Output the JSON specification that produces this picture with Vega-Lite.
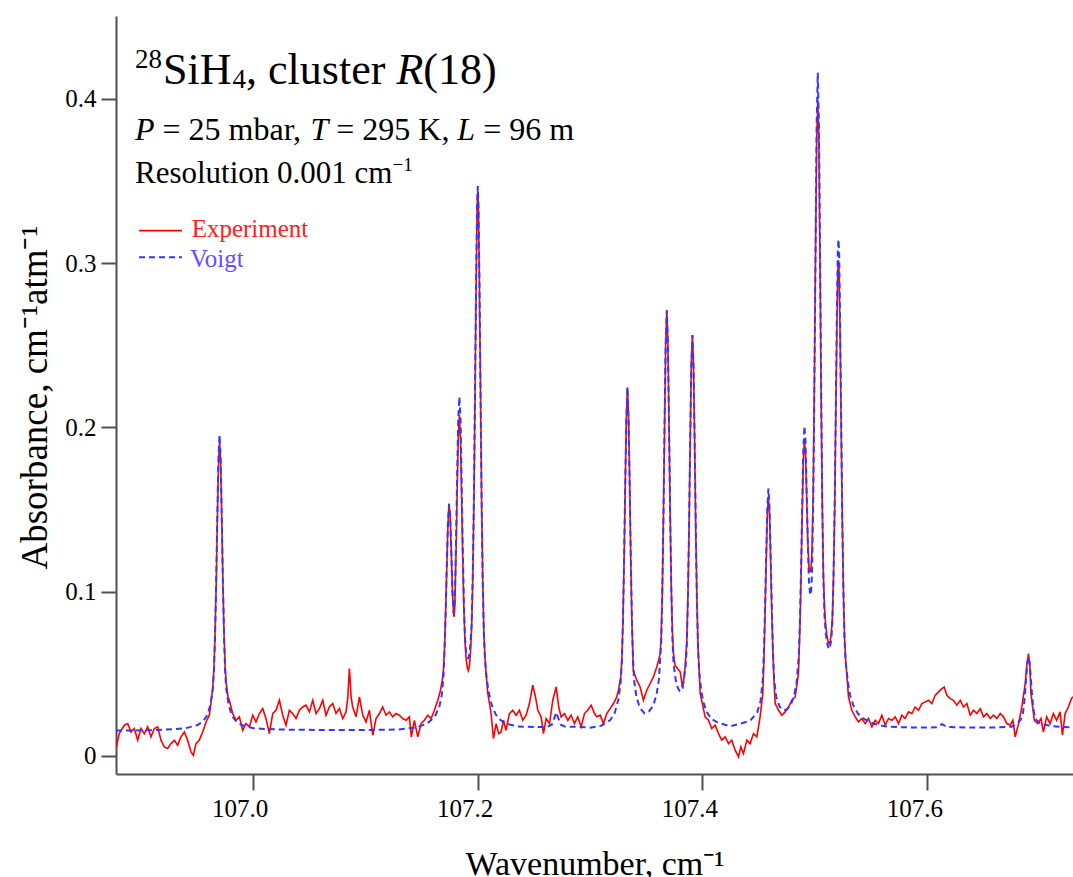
{
"$schema": "https://vega.github.io/schema/vega-lite/v6.json",
"width": 957, "height": 758,
"autosize": "none",
"padding": {"left": 116, "top": 16, "right": 0, "bottom": 103},
"background": "white",
"config": {"view": {"stroke": null}, "font": "Liberation Serif"},
"datasets": {
"experiment": [
{"wn":106.8784,"abs":0.0045},{"wn":106.8813,"abs":0.0136},{"wn":106.8858,"abs":0.0187},{"wn":106.8888,"abs":0.0197},{"wn":106.8917,"abs":0.0146},{"wn":106.8947,"abs":0.0167},{"wn":106.8977,"abs":0.0096},{"wn":106.9006,"abs":0.0167},{"wn":106.9036,"abs":0.0136},{"wn":106.9066,"abs":0.0177},{"wn":106.9095,"abs":0.0116},{"wn":106.9125,"abs":0.0167},{"wn":106.9155,"abs":0.0177},{"wn":106.9184,"abs":0.0096},{"wn":106.9214,"abs":0.0055},{"wn":106.9243,"abs":0.0045},{"wn":106.9273,"abs":0.0075},{"wn":106.9303,"abs":0.0096},{"wn":106.9332,"abs":0.0065},{"wn":106.9362,"abs":0.0116},{"wn":106.9392,"abs":0.0146},{"wn":106.9421,"abs":0.0096},{"wn":106.9451,"abs":0.0025},{"wn":106.9472,"abs":0.0004},{"wn":106.9496,"abs":0.0075},{"wn":106.9525,"abs":0.0096},{"wn":106.9555,"abs":0.0146},{"wn":106.9585,"abs":0.0207},{"wn":106.9614,"abs":0.0248},{"wn":106.9625,"abs":0.03},{"wn":106.9645,"abs":0.042},{"wn":106.9655,"abs":0.053},{"wn":106.9665,"abs":0.074},{"wn":106.9675,"abs":0.104},{"wn":106.9685,"abs":0.142},{"wn":106.9695,"abs":0.176},{"wn":106.9705,"abs":0.1917},{"wn":106.9715,"abs":0.178},{"wn":106.9725,"abs":0.143},{"wn":106.9735,"abs":0.105},{"wn":106.9745,"abs":0.074},{"wn":106.9755,"abs":0.054},{"wn":106.9765,"abs":0.044},{"wn":106.978,"abs":0.036},{"wn":106.9792,"abs":0.0339},{"wn":106.9822,"abs":0.0258},{"wn":106.9851,"abs":0.0217},{"wn":106.9881,"abs":0.0238},{"wn":106.9911,"abs":0.0156},{"wn":106.994,"abs":0.0197},{"wn":106.997,"abs":0.0177},{"wn":107.0,"abs":0.0248},{"wn":107.0029,"abs":0.0207},{"wn":107.0059,"abs":0.0258},{"wn":107.0089,"abs":0.0288},{"wn":107.0118,"abs":0.0228},{"wn":107.0148,"abs":0.0136},{"wn":107.0178,"abs":0.0258},{"wn":107.0207,"abs":0.0278},{"wn":107.0237,"abs":0.0339},{"wn":107.0267,"abs":0.0248},{"wn":107.0296,"abs":0.0187},{"wn":107.0326,"abs":0.0278},{"wn":107.0356,"abs":0.0258},{"wn":107.0385,"abs":0.0228},{"wn":107.0415,"abs":0.0278},{"wn":107.0445,"abs":0.0298},{"wn":107.0474,"abs":0.0309},{"wn":107.0504,"abs":0.0268},{"wn":107.0534,"abs":0.0339},{"wn":107.0563,"abs":0.0258},{"wn":107.0593,"abs":0.0288},{"wn":107.0623,"abs":0.0339},{"wn":107.0652,"abs":0.0248},{"wn":107.0682,"abs":0.0298},{"wn":107.0712,"abs":0.0319},{"wn":107.0741,"abs":0.0258},{"wn":107.0771,"abs":0.0288},{"wn":107.0801,"abs":0.0228},{"wn":107.083,"abs":0.0268},{"wn":107.0845,"abs":0.035},{"wn":107.086,"abs":0.0532},{"wn":107.0875,"abs":0.036},{"wn":107.0889,"abs":0.0298},{"wn":107.0919,"abs":0.0238},{"wn":107.0949,"abs":0.0359},{"wn":107.0979,"abs":0.0248},{"wn":107.1008,"abs":0.0207},{"wn":107.1038,"abs":0.0278},{"wn":107.1068,"abs":0.0126},{"wn":107.1097,"abs":0.0228},{"wn":107.1127,"abs":0.0258},{"wn":107.1156,"abs":0.0298},{"wn":107.1186,"abs":0.0248},{"wn":107.1216,"abs":0.0268},{"wn":107.1245,"abs":0.0238},{"wn":107.1275,"abs":0.0258},{"wn":107.1304,"abs":0.0248},{"wn":107.1334,"abs":0.0228},{"wn":107.1364,"abs":0.0217},{"wn":107.1393,"abs":0.0238},{"wn":107.1411,"abs":0.0116},{"wn":107.1438,"abs":0.0217},{"wn":107.1468,"abs":0.0116},{"wn":107.1498,"abs":0.0197},{"wn":107.1527,"abs":0.0217},{"wn":107.1557,"abs":0.0248},{"wn":107.1587,"abs":0.0228},{"wn":107.1616,"abs":0.0278},{"wn":107.1646,"abs":0.0339},{"wn":107.167,"abs":0.04},{"wn":107.1686,"abs":0.046},{"wn":107.1696,"abs":0.052},{"wn":107.1706,"abs":0.066},{"wn":107.1716,"abs":0.088},{"wn":107.1726,"abs":0.115},{"wn":107.1736,"abs":0.14},{"wn":107.1746,"abs":0.1537},{"wn":107.1756,"abs":0.146},{"wn":107.1766,"abs":0.125},{"wn":107.1776,"abs":0.101},{"wn":107.1786,"abs":0.087},{"wn":107.1792,"abs":0.0847},{"wn":107.1798,"abs":0.092},{"wn":107.1808,"abs":0.122},{"wn":107.1818,"abs":0.16},{"wn":107.1828,"abs":0.193},{"wn":107.1838,"abs":0.2075},{"wn":107.1848,"abs":0.193},{"wn":107.1858,"abs":0.158},{"wn":107.1868,"abs":0.12},{"wn":107.1878,"abs":0.09},{"wn":107.1888,"abs":0.07},{"wn":107.1898,"abs":0.059},{"wn":107.1908,"abs":0.054},{"wn":107.1918,"abs":0.052},{"wn":107.1928,"abs":0.055},{"wn":107.1938,"abs":0.064},{"wn":107.1948,"abs":0.08},{"wn":107.1958,"abs":0.11},{"wn":107.1968,"abs":0.158},{"wn":107.1978,"abs":0.225},{"wn":107.1988,"abs":0.292},{"wn":107.1996,"abs":0.334},{"wn":107.2002,"abs":0.345},{"wn":107.2008,"abs":0.333},{"wn":107.2016,"abs":0.29},{"wn":107.2026,"abs":0.222},{"wn":107.2036,"abs":0.154},{"wn":107.2046,"abs":0.106},{"wn":107.2056,"abs":0.075},{"wn":107.2066,"abs":0.06},{"wn":107.2076,"abs":0.05},{"wn":107.2091,"abs":0.038},{"wn":107.212,"abs":0.026},{"wn":107.2141,"abs":0.0106},{"wn":107.2165,"abs":0.0197},{"wn":107.2188,"abs":0.0136},{"wn":107.2209,"abs":0.0146},{"wn":107.223,"abs":0.0217},{"wn":107.2253,"abs":0.0156},{"wn":107.2283,"abs":0.0258},{"wn":107.2313,"abs":0.0278},{"wn":107.2343,"abs":0.0248},{"wn":107.2372,"abs":0.0278},{"wn":107.2402,"abs":0.0217},{"wn":107.2432,"abs":0.0248},{"wn":107.2461,"abs":0.0319},{"wn":107.2491,"abs":0.0431},{"wn":107.2515,"abs":0.0359},{"wn":107.2536,"abs":0.0278},{"wn":107.2565,"abs":0.0238},{"wn":107.2586,"abs":0.0136},{"wn":107.261,"abs":0.0228},{"wn":107.264,"abs":0.0197},{"wn":107.2669,"abs":0.0339},{"wn":107.2699,"abs":0.042},{"wn":107.2722,"abs":0.0298},{"wn":107.2743,"abs":0.0238},{"wn":107.2773,"abs":0.0258},{"wn":107.2803,"abs":0.0217},{"wn":107.2832,"abs":0.0248},{"wn":107.2862,"abs":0.0197},{"wn":107.2891,"abs":0.0238},{"wn":107.2921,"abs":0.0177},{"wn":107.2951,"abs":0.0258},{"wn":107.298,"abs":0.0278},{"wn":107.301,"abs":0.0309},{"wn":107.304,"abs":0.0258},{"wn":107.306,"abs":0.0238},{"wn":107.309,"abs":0.0248},{"wn":107.312,"abs":0.0197},{"wn":107.3149,"abs":0.0258},{"wn":107.3179,"abs":0.0288},{"wn":107.3209,"abs":0.0319},{"wn":107.3238,"abs":0.0359},{"wn":107.3253,"abs":0.04},{"wn":107.3273,"abs":0.048},{"wn":107.3283,"abs":0.058},{"wn":107.3293,"abs":0.082},{"wn":107.3303,"abs":0.118},{"wn":107.3313,"abs":0.163},{"wn":107.3323,"abs":0.205},{"wn":107.3333,"abs":0.2244},{"wn":107.3343,"abs":0.206},{"wn":107.3353,"abs":0.166},{"wn":107.3363,"abs":0.118},{"wn":107.3373,"abs":0.08},{"wn":107.3385,"abs":0.052},{"wn":107.3416,"abs":0.0461},{"wn":107.3446,"abs":0.042},{"wn":107.3475,"abs":0.0339},{"wn":107.3505,"abs":0.04},{"wn":107.3535,"abs":0.0441},{"wn":107.3564,"abs":0.0481},{"wn":107.3594,"abs":0.0542},{"wn":107.3624,"abs":0.062},{"wn":107.3633,"abs":0.072},{"wn":107.3643,"abs":0.1},{"wn":107.3653,"abs":0.145},{"wn":107.3663,"abs":0.2},{"wn":107.3673,"abs":0.25},{"wn":107.3683,"abs":0.2714},{"wn":107.3693,"abs":0.251},{"wn":107.3703,"abs":0.201},{"wn":107.3713,"abs":0.147},{"wn":107.3723,"abs":0.103},{"wn":107.3733,"abs":0.075},{"wn":107.3743,"abs":0.062},{"wn":107.3757,"abs":0.0552},{"wn":107.3778,"abs":0.0532},{"wn":107.3802,"abs":0.0512},{"wn":107.3825,"abs":0.041},{"wn":107.3846,"abs":0.0542},{"wn":107.3861,"abs":0.07},{"wn":107.3871,"abs":0.097},{"wn":107.3881,"abs":0.139},{"wn":107.3891,"abs":0.191},{"wn":107.3901,"abs":0.238},{"wn":107.3911,"abs":0.2562},{"wn":107.3921,"abs":0.237},{"wn":107.3931,"abs":0.189},{"wn":107.3941,"abs":0.136},{"wn":107.3951,"abs":0.094},{"wn":107.3961,"abs":0.066},{"wn":107.3971,"abs":0.052},{"wn":107.398,"abs":0.038},{"wn":107.4024,"abs":0.0238},{"wn":107.4054,"abs":0.0217},{"wn":107.4083,"abs":0.0167},{"wn":107.4113,"abs":0.0187},{"wn":107.4143,"abs":0.0136},{"wn":107.4172,"abs":0.0096},{"wn":107.4202,"abs":0.0116},{"wn":107.4232,"abs":0.0075},{"wn":107.4261,"abs":0.0096},{"wn":107.4291,"abs":0.0035},{"wn":107.4321,"abs":-0.0006},{"wn":107.4341,"abs":0.0055},{"wn":107.4365,"abs":0.0014},{"wn":107.4395,"abs":0.0096},{"wn":107.4424,"abs":0.0075},{"wn":107.4454,"abs":0.0136},{"wn":107.4484,"abs":0.0116},{"wn":107.4513,"abs":0.0238},{"wn":107.4537,"abs":0.038},{"wn":107.4547,"abs":0.058},{"wn":107.4557,"abs":0.087},{"wn":107.4567,"abs":0.118},{"wn":107.4577,"abs":0.147},{"wn":107.4587,"abs":0.1577},{"wn":107.4597,"abs":0.147},{"wn":107.4607,"abs":0.118},{"wn":107.4617,"abs":0.087},{"wn":107.4627,"abs":0.062},{"wn":107.4637,"abs":0.045},{"wn":107.4647,"abs":0.0319},{"wn":107.4677,"abs":0.0278},{"wn":107.4706,"abs":0.0248},{"wn":107.4736,"abs":0.0268},{"wn":107.4766,"abs":0.0298},{"wn":107.4795,"abs":0.0339},{"wn":107.4825,"abs":0.0359},{"wn":107.4854,"abs":0.05},{"wn":107.4867,"abs":0.078},{"wn":107.4877,"abs":0.108},{"wn":107.4887,"abs":0.146},{"wn":107.4897,"abs":0.179},{"wn":107.4907,"abs":0.1923},{"wn":107.4917,"abs":0.184},{"wn":107.4927,"abs":0.158},{"wn":107.4937,"abs":0.131},{"wn":107.4947,"abs":0.115},{"wn":107.4957,"abs":0.112},{"wn":107.4965,"abs":0.114},{"wn":107.4975,"abs":0.125},{"wn":107.4986,"abs":0.165},{"wn":107.4996,"abs":0.232},{"wn":107.5006,"abs":0.306},{"wn":107.5016,"abs":0.375},{"wn":107.5026,"abs":0.3993},{"wn":107.5036,"abs":0.374},{"wn":107.5046,"abs":0.3},{"wn":107.5056,"abs":0.218},{"wn":107.5066,"abs":0.152},{"wn":107.5076,"abs":0.11},{"wn":107.5086,"abs":0.09},{"wn":107.5096,"abs":0.08},{"wn":107.5106,"abs":0.074},{"wn":107.5116,"abs":0.07},{"wn":107.5126,"abs":0.0684},{"wn":107.5136,"abs":0.07},{"wn":107.5146,"abs":0.074},{"wn":107.5156,"abs":0.085},{"wn":107.5166,"abs":0.11},{"wn":107.5176,"abs":0.15},{"wn":107.5186,"abs":0.206},{"wn":107.5196,"abs":0.262},{"wn":107.5204,"abs":0.295},{"wn":107.521,"abs":0.3019},{"wn":107.5216,"abs":0.294},{"wn":107.5224,"abs":0.258},{"wn":107.5234,"abs":0.2},{"wn":107.5244,"abs":0.142},{"wn":107.5254,"abs":0.1},{"wn":107.5264,"abs":0.072},{"wn":107.5274,"abs":0.058},{"wn":107.5284,"abs":0.05},{"wn":107.5299,"abs":0.036},{"wn":107.5329,"abs":0.0278},{"wn":107.5359,"abs":0.0238},{"wn":107.5388,"abs":0.0207},{"wn":107.5418,"abs":0.0228},{"wn":107.5448,"abs":0.0197},{"wn":107.5477,"abs":0.0228},{"wn":107.5507,"abs":0.0177},{"wn":107.5537,"abs":0.0217},{"wn":107.5566,"abs":0.0197},{"wn":107.5596,"abs":0.0248},{"wn":107.5626,"abs":0.0187},{"wn":107.5655,"abs":0.0228},{"wn":107.5685,"abs":0.0217},{"wn":107.5715,"abs":0.0238},{"wn":107.5744,"abs":0.0197},{"wn":107.5774,"abs":0.0248},{"wn":107.5803,"abs":0.0228},{"wn":107.5833,"abs":0.0268},{"wn":107.5863,"abs":0.0258},{"wn":107.5892,"abs":0.0298},{"wn":107.5922,"abs":0.0278},{"wn":107.5952,"abs":0.0319},{"wn":107.5981,"abs":0.0329},{"wn":107.6011,"abs":0.0339},{"wn":107.6041,"abs":0.0319},{"wn":107.607,"abs":0.0369},{"wn":107.61,"abs":0.039},{"wn":107.613,"abs":0.041},{"wn":107.615,"abs":0.042},{"wn":107.6174,"abs":0.0369},{"wn":107.6204,"abs":0.0349},{"wn":107.6233,"abs":0.0339},{"wn":107.6263,"abs":0.0309},{"wn":107.6293,"abs":0.0339},{"wn":107.6322,"abs":0.0298},{"wn":107.6352,"abs":0.0319},{"wn":107.6382,"abs":0.0248},{"wn":107.6411,"abs":0.0278},{"wn":107.6441,"abs":0.0258},{"wn":107.6471,"abs":0.0288},{"wn":107.65,"abs":0.0238},{"wn":107.653,"abs":0.0258},{"wn":107.656,"abs":0.0228},{"wn":107.6589,"abs":0.0248},{"wn":107.6619,"abs":0.0228},{"wn":107.6649,"abs":0.0258},{"wn":107.6678,"abs":0.0238},{"wn":107.6708,"abs":0.0197},{"wn":107.6738,"abs":0.0187},{"wn":107.6761,"abs":0.0217},{"wn":107.6782,"abs":0.0116},{"wn":107.6812,"abs":0.0197},{"wn":107.6841,"abs":0.0298},{"wn":107.6871,"abs":0.044},{"wn":107.6885,"abs":0.055},{"wn":107.69,"abs":0.0623},{"wn":107.6912,"abs":0.055},{"wn":107.6922,"abs":0.038},{"wn":107.6952,"abs":0.0217},{"wn":107.6982,"abs":0.0197},{"wn":107.7011,"abs":0.0228},{"wn":107.7032,"abs":0.0146},{"wn":107.7062,"abs":0.0238},{"wn":107.7092,"abs":0.0197},{"wn":107.7121,"abs":0.0258},{"wn":107.7151,"abs":0.0217},{"wn":107.7181,"abs":0.0268},{"wn":107.7202,"abs":0.0126},{"wn":107.7226,"abs":0.0258},{"wn":107.7255,"abs":0.0298},{"wn":107.7282,"abs":0.0349},{"wn":107.7296,"abs":0.036}
],
"voigt": [
{"wn":106.8784,"abs":0.0155},{"wn":106.895,"abs":0.0155},{"wn":106.91,"abs":0.0157},{"wn":106.92,"abs":0.0159},{"wn":106.9305,"abs":0.0164},{"wn":106.9405,"abs":0.0169},{"wn":106.9505,"abs":0.0187},{"wn":106.9555,"abs":0.0209},{"wn":106.9585,"abs":0.0236},{"wn":106.9605,"abs":0.0267},{"wn":106.9625,"abs":0.0317},{"wn":106.9645,"abs":0.0407},{"wn":106.9655,"abs":0.0515},{"wn":106.9665,"abs":0.0731},{"wn":106.9675,"abs":0.1055},{"wn":106.9685,"abs":0.1451},{"wn":106.9695,"abs":0.1811},{"wn":106.9705,"abs":0.1955},{"wn":106.9715,"abs":0.1811},{"wn":106.9725,"abs":0.1451},{"wn":106.9735,"abs":0.1055},{"wn":106.9745,"abs":0.0731},{"wn":106.9755,"abs":0.0515},{"wn":106.9765,"abs":0.0407},{"wn":106.9785,"abs":0.0317},{"wn":106.9805,"abs":0.0267},{"wn":106.9825,"abs":0.0236},{"wn":106.9855,"abs":0.0209},{"wn":106.9905,"abs":0.0187},{"wn":107.0005,"abs":0.0169},{"wn":107.0105,"abs":0.0164},{"wn":107.03,"abs":0.016},{"wn":107.06,"abs":0.0158},{"wn":107.1,"abs":0.0158},{"wn":107.13,"abs":0.0161},{"wn":107.145,"abs":0.0173},{"wn":107.155,"abs":0.0196},{"wn":107.162,"abs":0.024},{"wn":107.166,"abs":0.03},{"wn":107.168,"abs":0.0363},{"wn":107.1696,"abs":0.0476},{"wn":107.1706,"abs":0.0633},{"wn":107.1716,"abs":0.0865},{"wn":107.1726,"abs":0.1147},{"wn":107.1736,"abs":0.1411},{"wn":107.1746,"abs":0.1534},{"wn":107.1756,"abs":0.1466},{"wn":107.1766,"abs":0.1259},{"wn":107.1776,"abs":0.1},{"wn":107.1786,"abs":0.087},{"wn":107.1792,"abs":0.088},{"wn":107.1798,"abs":0.097},{"wn":107.1808,"abs":0.1287},{"wn":107.1818,"abs":0.1687},{"wn":107.1828,"abs":0.2047},{"wn":107.1838,"abs":0.2187},{"wn":107.1848,"abs":0.2062},{"wn":107.1858,"abs":0.168},{"wn":107.1868,"abs":0.127},{"wn":107.1878,"abs":0.0935},{"wn":107.1888,"abs":0.0722},{"wn":107.1898,"abs":0.0632},{"wn":107.1908,"abs":0.06},{"wn":107.1918,"abs":0.0595},{"wn":107.1928,"abs":0.062},{"wn":107.1938,"abs":0.069},{"wn":107.1948,"abs":0.0817},{"wn":107.1958,"abs":0.1125},{"wn":107.1968,"abs":0.16},{"wn":107.1978,"abs":0.227},{"wn":107.1988,"abs":0.294},{"wn":107.1996,"abs":0.336},{"wn":107.2002,"abs":0.347},{"wn":107.2008,"abs":0.335},{"wn":107.2016,"abs":0.292},{"wn":107.2026,"abs":0.224},{"wn":107.2036,"abs":0.155},{"wn":107.2046,"abs":0.106},{"wn":107.2056,"abs":0.0737},{"wn":107.2066,"abs":0.0588},{"wn":107.2076,"abs":0.0505},{"wn":107.2092,"abs":0.0419},{"wn":107.2112,"abs":0.0344},{"wn":107.2132,"abs":0.0299},{"wn":107.2162,"abs":0.0252},{"wn":107.2202,"abs":0.022},{"wn":107.2252,"abs":0.0197},{"wn":107.2352,"abs":0.018},{"wn":107.25,"abs":0.0176},{"wn":107.262,"abs":0.0177},{"wn":107.266,"abs":0.019},{"wn":107.268,"abs":0.0225},{"wn":107.27,"abs":0.0265},{"wn":107.272,"abs":0.0225},{"wn":107.274,"abs":0.019},{"wn":107.278,"abs":0.0178},{"wn":107.29,"abs":0.0177},{"wn":107.3,"abs":0.0172},{"wn":107.31,"abs":0.0184},{"wn":107.318,"abs":0.0218},{"wn":107.322,"abs":0.0262},{"wn":107.3253,"abs":0.0345},{"wn":107.3273,"abs":0.0447},{"wn":107.3283,"abs":0.0571},{"wn":107.3293,"abs":0.0817},{"wn":107.3303,"abs":0.1187},{"wn":107.3313,"abs":0.1638},{"wn":107.3323,"abs":0.2049},{"wn":107.3333,"abs":0.2244},{"wn":107.3343,"abs":0.2052},{"wn":107.3353,"abs":0.1642},{"wn":107.3363,"abs":0.1192},{"wn":107.3373,"abs":0.0823},{"wn":107.3383,"abs":0.0578},{"wn":107.3393,"abs":0.0456},{"wn":107.3413,"abs":0.0361},{"wn":107.3443,"abs":0.0292},{"wn":107.3485,"abs":0.026},{"wn":107.3523,"abs":0.027},{"wn":107.3563,"abs":0.0306},{"wn":107.3593,"abs":0.0379},{"wn":107.3613,"abs":0.0466},{"wn":107.3633,"abs":0.0692},{"wn":107.3643,"abs":0.0994},{"wn":107.3653,"abs":0.1448},{"wn":107.3663,"abs":0.2003},{"wn":107.3673,"abs":0.2508},{"wn":107.3683,"abs":0.2714},{"wn":107.3693,"abs":0.2515},{"wn":107.3703,"abs":0.2014},{"wn":107.3713,"abs":0.1463},{"wn":107.3723,"abs":0.1014},{"wn":107.3733,"abs":0.0715},{"wn":107.3743,"abs":0.056},{"wn":107.3763,"abs":0.0459},{"wn":107.3783,"abs":0.0411},{"wn":107.3797,"abs":0.0397},{"wn":107.3811,"abs":0.0406},{"wn":107.3831,"abs":0.0447},{"wn":107.3851,"abs":0.0548},{"wn":107.3861,"abs":0.068},{"wn":107.3871,"abs":0.096},{"wn":107.3881,"abs":0.1385},{"wn":107.3891,"abs":0.1907},{"wn":107.3901,"abs":0.238},{"wn":107.3911,"abs":0.2562},{"wn":107.3921,"abs":0.2376},{"wn":107.3931,"abs":0.19},{"wn":107.3941,"abs":0.1373},{"wn":107.3951,"abs":0.0942},{"wn":107.3961,"abs":0.0656},{"wn":107.3971,"abs":0.0511},{"wn":107.3991,"abs":0.0389},{"wn":107.4011,"abs":0.0321},{"wn":107.4041,"abs":0.0265},{"wn":107.4081,"abs":0.0224},{"wn":107.4141,"abs":0.0202},{"wn":107.4246,"abs":0.018},{"wn":107.4337,"abs":0.0196},{"wn":107.4427,"abs":0.0216},{"wn":107.4487,"abs":0.0265},{"wn":107.4517,"abs":0.0335},{"wn":107.4537,"abs":0.0465},{"wn":107.4547,"abs":0.0639},{"wn":107.4557,"abs":0.09},{"wn":107.4567,"abs":0.1219},{"wn":107.4577,"abs":0.1509},{"wn":107.4587,"abs":0.1628},{"wn":107.4597,"abs":0.1512},{"wn":107.4607,"abs":0.1223},{"wn":107.4617,"abs":0.0905},{"wn":107.4627,"abs":0.0644},{"wn":107.4637,"abs":0.0471},{"wn":107.4657,"abs":0.0359},{"wn":107.4687,"abs":0.0299},{"wn":107.4727,"abs":0.0277},{"wn":107.4757,"abs":0.0287},{"wn":107.4787,"abs":0.0312},{"wn":107.4817,"abs":0.0372},{"wn":107.4837,"abs":0.0443},{"wn":107.4857,"abs":0.0607},{"wn":107.4867,"abs":0.0816},{"wn":107.4877,"abs":0.1121},{"wn":107.4887,"abs":0.1507},{"wn":107.4897,"abs":0.1856},{"wn":107.4907,"abs":0.2008},{"wn":107.4917,"abs":0.1911},{"wn":107.4927,"abs":0.1615},{"wn":107.4937,"abs":0.1307},{"wn":107.4947,"abs":0.1069},{"wn":107.4957,"abs":0.099},{"wn":107.4965,"abs":0.098},{"wn":107.4975,"abs":0.1114},{"wn":107.4986,"abs":0.158},{"wn":107.4996,"abs":0.2257},{"wn":107.5006,"abs":0.309},{"wn":107.5016,"abs":0.3854},{"wn":107.5026,"abs":0.416},{"wn":107.5036,"abs":0.3853},{"wn":107.5046,"abs":0.3077},{"wn":107.5056,"abs":0.2224},{"wn":107.5066,"abs":0.1531},{"wn":107.5076,"abs":0.1076},{"wn":107.5086,"abs":0.0854},{"wn":107.5096,"abs":0.0752},{"wn":107.5106,"abs":0.0697},{"wn":107.5116,"abs":0.0668},{"wn":107.5126,"abs":0.065},{"wn":107.5136,"abs":0.0669},{"wn":107.5146,"abs":0.0709},{"wn":107.5156,"abs":0.0818},{"wn":107.5166,"abs":0.1088},{"wn":107.5176,"abs":0.1502},{"wn":107.5186,"abs":0.2099},{"wn":107.5196,"abs":0.2699},{"wn":107.5204,"abs":0.3069},{"wn":107.521,"abs":0.3145},{"wn":107.5216,"abs":0.3056},{"wn":107.5224,"abs":0.2674},{"wn":107.5234,"abs":0.2059},{"wn":107.5244,"abs":0.1442},{"wn":107.5254,"abs":0.1003},{"wn":107.5264,"abs":0.0709},{"wn":107.5274,"abs":0.0575},{"wn":107.5294,"abs":0.0447},{"wn":107.5314,"abs":0.0368},{"wn":107.5344,"abs":0.0305},{"wn":107.5384,"abs":0.0256},{"wn":107.5444,"abs":0.0222},{"wn":107.5524,"abs":0.0196},{"wn":107.5624,"abs":0.018},{"wn":107.58,"abs":0.0174},{"wn":107.6,"abs":0.0173},{"wn":107.608,"abs":0.0174},{"wn":107.611,"abs":0.0186},{"wn":107.613,"abs":0.0194},{"wn":107.615,"abs":0.0186},{"wn":107.618,"abs":0.0176},{"wn":107.64,"abs":0.0173},{"wn":107.66,"abs":0.0173},{"wn":107.675,"abs":0.0178},{"wn":107.68,"abs":0.0199},{"wn":107.683,"abs":0.0219},{"wn":107.685,"abs":0.0258},{"wn":107.686,"abs":0.031},{"wn":107.687,"abs":0.0387},{"wn":107.688,"abs":0.0482},{"wn":107.689,"abs":0.0568},{"wn":107.69,"abs":0.0603},{"wn":107.691,"abs":0.0568},{"wn":107.692,"abs":0.0482},{"wn":107.693,"abs":0.0387},{"wn":107.694,"abs":0.031},{"wn":107.695,"abs":0.0258},{"wn":107.697,"abs":0.0219},{"wn":107.7,"abs":0.0199},{"wn":107.71,"abs":0.0182},{"wn":107.72,"abs":0.0176},{"wn":107.7296,"abs":0.0174}
],
"anchor": [{}]
},
"layer": [
{
"data": {"name": "experiment"},
"mark": {"type": "line", "color": "#ff0000", "strokeWidth": 1.6, "clip": true},
"encoding": {
"x": {"field": "wn", "type": "quantitative",
 "scale": {"domain": [106.8784, 107.7296], "nice": false, "zero": false},
 "axis": {"title": "Wavenumber, cm⁻¹", "values": [107.0, 107.2, 107.4, 107.6], "format": ".1f", "grid": false,
  "domainColor": "#505050", "domainWidth": 2, "tickColor": "#505050", "tickWidth": 2, "tickSize": 16,
  "labelFont": "Liberation Serif", "labelFontSize": 25, "labelColor": "#000000", "labelPadding": 6, "labelOffset": -13,
  "titleFont": "Liberation Serif", "titleFontSize": 34, "titleFontWeight": "normal", "titleColor": "#000000",
  "titleBaseline": "alphabetic", "titleX": 478.5, "titleY": 100}},
"y": {"field": "abs", "type": "quantitative",
 "scale": {"domain": [-0.011, 0.4505], "nice": false, "zero": false},
 "axis": {"title": "Absorbance, cm⁻¹atm⁻¹", "values": [0, 0.1, 0.2, 0.3, 0.4], "format": "~g", "grid": false,
  "domainColor": "#505050", "domainWidth": 2, "tickColor": "#505050", "tickWidth": 2, "tickSize": 15,
  "labelFont": "Liberation Serif", "labelFontSize": 25, "labelColor": "#000000", "labelPadding": 5,
  "titleFont": "Liberation Serif", "titleFontSize": 37, "titleFontWeight": "normal", "titleColor": "#000000",
  "titleAngle": 270, "titleBaseline": "alphabetic", "titleX": -70, "titleY": 381}}
}
},
{
"data": {"name": "voigt"},
"mark": {"type": "line", "color": "#3535ff", "strokeWidth": 2, "strokeDash": [6, 4], "clip": true},
"encoding": {
"x": {"field": "wn", "type": "quantitative"},
"y": {"field": "abs", "type": "quantitative"}
}
},
{"data": {"name": "anchor"}, "mark": {"type": "text", "text": "28", "font": "Liberation Serif", "fontSize": 27, "align": "left", "baseline": "alphabetic", "color": "#000000"},
 "encoding": {"x": {"datum": 106.8953}, "y": {"datum": 0.4188}}},
{"data": {"name": "anchor"}, "mark": {"type": "text", "text": "SiH", "font": "Liberation Serif", "fontSize": 44, "align": "left", "baseline": "alphabetic", "color": "#000000"},
 "encoding": {"x": {"datum": 106.9202}, "y": {"datum": 0.4094}}},
{"data": {"name": "anchor"}, "mark": {"type": "text", "text": "4", "font": "Liberation Serif", "fontSize": 27, "align": "left", "baseline": "alphabetic", "color": "#000000"},
 "encoding": {"x": {"datum": 106.982}, "y": {"datum": 0.4067}}},
{"data": {"name": "anchor"}, "mark": {"type": "text", "text": ", cluster", "font": "Liberation Serif", "fontSize": 44, "align": "left", "baseline": "alphabetic", "color": "#000000"},
 "encoding": {"x": {"datum": 106.9941}, "y": {"datum": 0.4094}}},
{"data": {"name": "anchor"}, "mark": {"type": "text", "text": "R", "font": "Liberation Serif", "fontStyle": "italic", "fontSize": 44, "align": "left", "baseline": "alphabetic", "color": "#000000"},
 "encoding": {"x": {"datum": 107.1278}, "y": {"datum": 0.4094}}},
{"data": {"name": "anchor"}, "mark": {"type": "text", "text": "(18)", "font": "Liberation Serif", "fontSize": 44, "align": "left", "baseline": "alphabetic", "color": "#000000"},
 "encoding": {"x": {"datum": 107.1517}, "y": {"datum": 0.4094}}},
{"data": {"name": "anchor"}, "mark": {"type": "text", "text": "P", "font": "Liberation Serif", "fontStyle": "italic", "fontSize": 32, "align": "left", "baseline": "alphabetic", "color": "#000000"},
 "encoding": {"x": {"datum": 106.8953}, "y": {"datum": 0.375}}},
{"data": {"name": "anchor"}, "mark": {"type": "text", "text": "= 25 mbar,", "font": "Liberation Serif", "fontSize": 32, "align": "left", "baseline": "alphabetic", "color": "#000000"},
 "encoding": {"x": {"datum": 106.9198}, "y": {"datum": 0.375}}},
{"data": {"name": "anchor"}, "mark": {"type": "text", "text": "T", "font": "Liberation Serif", "fontStyle": "italic", "fontSize": 32, "align": "left", "baseline": "alphabetic", "color": "#000000"},
 "encoding": {"x": {"datum": 107.0513}, "y": {"datum": 0.375}}},
{"data": {"name": "anchor"}, "mark": {"type": "text", "text": "= 295 K,", "font": "Liberation Serif", "fontSize": 32, "align": "left", "baseline": "alphabetic", "color": "#000000"},
 "encoding": {"x": {"datum": 107.0743}, "y": {"datum": 0.375}}},
{"data": {"name": "anchor"}, "mark": {"type": "text", "text": "L", "font": "Liberation Serif", "fontStyle": "italic", "fontSize": 32, "align": "left", "baseline": "alphabetic", "color": "#000000"},
 "encoding": {"x": {"datum": 107.182}, "y": {"datum": 0.375}}},
{"data": {"name": "anchor"}, "mark": {"type": "text", "text": "= 96 m", "font": "Liberation Serif", "fontSize": 32, "align": "left", "baseline": "alphabetic", "color": "#000000"},
 "encoding": {"x": {"datum": 107.205}, "y": {"datum": 0.375}}},
{"data": {"name": "anchor"}, "mark": {"type": "text", "text": "Resolution 0.001 cm", "font": "Liberation Serif", "fontSize": 31, "align": "left", "baseline": "alphabetic", "color": "#000000"},
 "encoding": {"x": {"datum": 106.8953}, "y": {"datum": 0.3488}}},
{"data": {"name": "anchor"}, "mark": {"type": "text", "text": "−1", "font": "Liberation Serif", "fontSize": 19, "align": "left", "baseline": "alphabetic", "color": "#000000"},
 "encoding": {"x": {"datum": 107.1244}, "y": {"datum": 0.3561}}},
{"data": {"name": "anchor"}, "mark": {"type": "rule", "color": "#ff0000", "strokeWidth": 1.6},
 "encoding": {"x": {"datum": 106.8989}, "x2": {"datum": 106.9371}, "y": {"datum": 0.3198}}},
{"data": {"name": "anchor"}, "mark": {"type": "text", "text": "Experiment", "font": "Liberation Serif", "fontSize": 25, "align": "left", "baseline": "alphabetic", "color": "#ff2020"},
 "encoding": {"x": {"datum": 106.9457}, "y": {"datum": 0.3159}}},
{"data": {"name": "anchor"}, "mark": {"type": "rule", "color": "#3535ff", "strokeWidth": 2, "strokeDash": [6, 4]},
 "encoding": {"x": {"datum": 106.8989}, "x2": {"datum": 106.9371}, "y": {"datum": 0.3036}}},
{"data": {"name": "anchor"}, "mark": {"type": "text", "text": "Voigt", "font": "Liberation Serif", "fontSize": 25, "align": "left", "baseline": "alphabetic", "color": "#6a4dff"},
 "encoding": {"x": {"datum": 106.9442}, "y": {"datum": 0.2979}}}
]
}
